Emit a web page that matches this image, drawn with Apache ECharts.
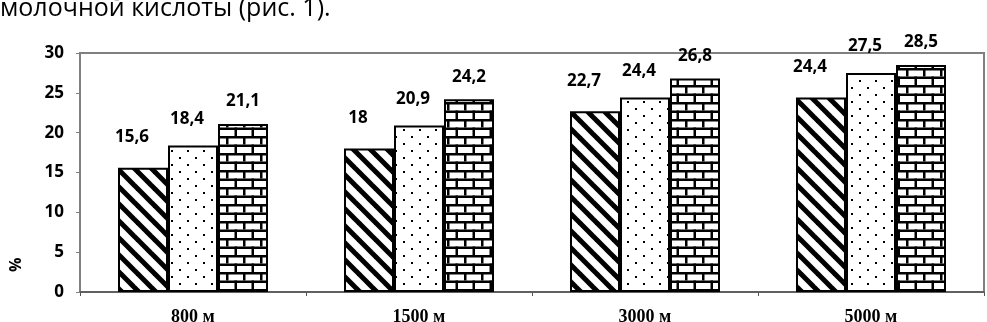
<!DOCTYPE html>
<html><head><meta charset="utf-8">
<script src="https://cdn.jsdelivr.net/npm/echarts@6/dist/echarts.min.js"></script>
<style>html,body{margin:0;padding:0;background:#fff;}#c{width:987px;height:322px;}</style>
</head><body><div id="c"></div>
<script>
var categories = ['800 м', '1500 м', '3000 м', '5000 м'];
var seriesA = [15.6, 18, 22.7, 24.4];
var seriesB = [18.4, 20.9, 24.4, 27.5];
var seriesC = [21.1, 24.2, 26.8, 28.5];
var yTicks = [0, 5, 10, 15, 20, 25, 30];
var captionText = 'молочной кислоты (рис. 1).';
var yName = '%';

function mk(w, h, draw) {
  var c = document.createElement('canvas');
  c.width = w; c.height = h;
  var g = c.getContext('2d');
  g.fillStyle = '#fff'; g.fillRect(0, 0, w, h);
  g.fillStyle = '#000'; g.strokeStyle = '#000';
  draw(g, w, h);
  return c;
}
var stripes = mk(17, 17, function (g, w, h) {
  g.lineWidth = 5;
  for (var k = -1; k <= 1; k++) {
    g.beginPath(); g.moveTo(-2, k * h - 2); g.lineTo(w + 2, h + k * h + 2); g.stroke();
  }
});
var dots = mk(16, 14, function (g) {
  g.fillRect(3, 3, 2, 2);
  g.fillRect(11, 10, 2, 2);
});
var bricks = mk(17, 17, function (g, w, h) {
  g.fillRect(0, 0, w, 2.5);
  g.fillRect(0, 8.5, w, 2.5);
  g.fillRect(5, 0, 2.5, 8.5);
  g.fillRect(13.5, 8.5, 2.5, 8.5);
});

var lblFont = {fontFamily: 'Open Sans', fontWeight: 'bold', fontSize: 17, color: '#000'};
function mkSeries(name, data, pat, dist, dx) {
  return {
    name: name, type: 'bar', data: data, barWidth: 50, barGap: '0%',
    itemStyle: {color: {image: pat, repeat: 'repeat'}, borderColor: '#000', borderWidth: 2},
    label: Object.assign({show: true, position: 'top', distance: dist, offset: [dx, 0],
      formatter: function (p) { return String(p.value).replace('.', ','); }}, lblFont),
    emphasis: {disabled: true}
  };
}
var chart = echarts.init(document.getElementById('c'), null, {renderer: 'canvas'});
chart.setOption({
  animation: false,
  grid: {left: 80, right: 3, top: 53, bottom: 30, show: true, borderColor: '#808080', borderWidth: 2,
    containLabel: false, outerBoundsMode: 'none'},
  xAxis: {
    type: 'category', data: categories,
    axisLine: {lineStyle: {color: '#555', width: 1.5}},
    axisTick: {show: true, length: 4, lineStyle: {color: '#555'}},
    axisLabel: {fontFamily: 'Liberation Serif', fontWeight: 'bold', fontSize: 18, color: '#000', margin: 16}
  },
  yAxis: {
    type: 'value', min: yTicks[0], max: yTicks[yTicks.length - 1], interval: yTicks[1] - yTicks[0],
    splitLine: {show: false},
    axisLine: {show: true, lineStyle: {color: '#808080', width: 2}},
    axisTick: {show: true, length: 4, lineStyle: {color: '#808080'}},
    axisLabel: {fontFamily: 'Open Sans', fontWeight: 'bold', fontSize: 17, color: '#000', margin: 16}
  },
  graphic: [
    {type: 'text', left: 0, top: -4, style: {text: captionText, fontFamily: 'Open Sans', fontSize: 25, fill: '#000'}},
    {type: 'text', x: 8, y: 272, rotation: Math.PI / 2, style: {text: yName, fontFamily: 'Open Sans', fontWeight: 'bold', fontSize: 16, fill: '#000'}}
  ],
  series: [
    mkSeries('A', seriesA, stripes, 22, -11),
    mkSeries('B', seriesB, dots, 18, -6),
    mkSeries('C', seriesC, bricks, 14, 0)
  ]
});
</script></body></html>
